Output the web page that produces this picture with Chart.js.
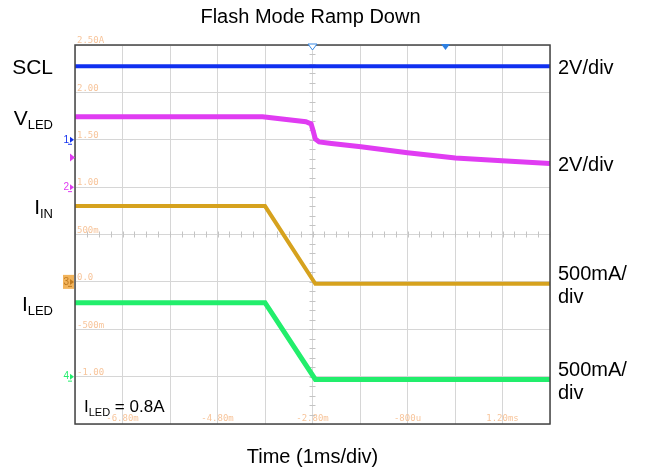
<!DOCTYPE html>
<html>
<head>
<meta charset="utf-8">
<title>Flash Mode Ramp Down</title>
<script src="https://cdn.jsdelivr.net/npm/chart.js@4.4.0/dist/chart.umd.min.js"></script>
<style>
  body { margin: 0; background: #fff; }
</style>
</head>
<body>
<canvas id="scope" width="648" height="471"></canvas>
<script>
// time base 1 ms/div, screen spans -7.8 ms .. 2.2 ms
var gridTimes = [-7.8, -6.8, -5.8, -4.8, -3.8, -2.8, -1.8, -0.8, 0.2, 1.2, 2.2];
var timeLabels = ['', '-6.80m', '', '-4.80m', '', '-2.80m', '', '-800u', '', '1.20ms', ''];
// vertical divisions from screen centre
var gridDivs = [-4, -3, -2, -1, 0, 1, 2, 3, 4];
var levelLabels = ['', '-1.00', '-500m', '0.0', '500m', '1.00', '1.50', '2.00', '2.50A'];

// traces (ms, volts / amps)
var sclTime = [-7.8, 2.2];
var sclVolts = [3.1, 3.1];
var vledTime = [-7.8, -3.85, -2.94, -2.83, -2.79, -2.74, -2.66, -2.4, -1.78, -0.8, 0.21, 1.19, 2.2];
var vledVolts = [2.97, 2.97, 2.76, 2.67, 2.40, 2.03, 1.91, 1.84, 1.70, 1.45, 1.23, 1.11, 1.0];
var iinTime = [-7.8, -3.8, -2.74, 2.2];
var iinAmps = [0.80, 0.80, -0.02, -0.02];
var iledTime = [-7.8, -3.8, -2.74, 2.2];
var iledAmps = [0.78, 0.78, -0.03, -0.03];

// channel settings: units per div and ground marker (div from centre)
var perDiv = [2, 2, 0.5, 0.5];
var groundDiv = [2, 1, -1, -3];
var chNames = [['SCL', ''], ['V', 'LED'], ['I', 'IN'], ['I', 'LED']];
var chScales = [['2V/div'], ['2V/div'], ['500mA/', 'div'], ['500mA/', 'div']];
var triggerTimes = [-2.8, 0.0];
var vledLevel = 1.25; // level arrow on ch2

var chColors = ['#1030f0', '#e03cf2', '#d6a21e', '#22ee6c'];
var chWidths = [4, 5, 4, 5];
var textFont = 'Arial, "Liberation Sans", sans-serif';
var scopeFont = {family: '"DejaVu Sans Mono", monospace', size: 9};

function toDivs(times, values, ch) {
    return times.map(function(t, i) {
        return {x: t, y: groundDiv[ch] + values[i] / perDiv[ch]};
    });
}

var traces = [
    toDivs(sclTime, sclVolts, 0),
    toDivs(vledTime, vledVolts, 1),
    toDivs(iinTime, iinAmps, 2),
    toDivs(iledTime, iledAmps, 3)
];

var scopeDecor = {
    id: 'scopeDecor',
    beforeDatasetsDraw: function(chart) {
        // small ticks on the centre cross
        var ctx = chart.ctx, xs = chart.scales.x, ys = chart.scales.y;
        var cx = xs.getPixelForValue(gridTimes[5]);
        var cy = ys.getPixelForValue(0);
        ctx.save();
        ctx.strokeStyle = '#c4c4c4';
        ctx.lineWidth = 1;
        ctx.beginPath();
        for (var d = -4; d <= 4.001; d += 0.2) {
            var py = Math.round(ys.getPixelForValue(d)) + 0.5;
            ctx.moveTo(cx - 3, py); ctx.lineTo(cx + 3, py);
        }
        for (var k = 0; k <= 40; k++) {
            var px = Math.round(xs.getPixelForValue(gridTimes[0] + k * 0.25)) + 0.5;
            ctx.moveTo(px, cy - 3); ctx.lineTo(px, cy + 3);
        }
        ctx.stroke();
        ctx.restore();
    },
    afterDraw: function(chart) {
        var ctx = chart.ctx, a = chart.chartArea, xs = chart.scales.x, ys = chart.scales.y;
        ctx.save();
        // frame
        ctx.strokeStyle = '#444';
        ctx.lineWidth = 1.5;
        ctx.strokeRect(a.left, a.top, a.right - a.left, a.bottom - a.top);

        // trigger markers on top edge
        triggerTimes.forEach(function(t, i) {
            var px = xs.getPixelForValue(t);
            ctx.beginPath();
            ctx.moveTo(px - 4.5, a.top - 1);
            ctx.lineTo(px + 4.5, a.top - 1);
            ctx.lineTo(px, a.top + 5);
            ctx.closePath();
            if (i == 0) {
                ctx.fillStyle = '#fff'; ctx.fill();
                ctx.strokeStyle = '#3a8be6'; ctx.lineWidth = 1; ctx.stroke();
            } else {
                ctx.fillStyle = '#2d7fe2'; ctx.fill();
            }
        });

        // channel ground markers at left edge
        ctx.font = '10px ' + textFont;
        ctx.textBaseline = 'middle';
        ctx.textAlign = 'right';
        groundDiv.forEach(function(g, i) {
            var py = ys.getPixelForValue(g);
            if (i == 2) {
                ctx.fillStyle = '#f2b45c';
                ctx.fillRect(a.left - 12, py - 7, 11, 14);
            }
            ctx.fillStyle = i == 2 ? '#c07a20' : chColors[i];
            ctx.fillText(String(i + 1), a.left - 6, py);
            ctx.beginPath();
            ctx.moveTo(a.left - 5, py - 3);
            ctx.lineTo(a.left - 1, py);
            ctx.lineTo(a.left - 5, py + 3);
            ctx.fill();
            ctx.fillRect(a.left - 7, py + 4, 4, 1);
        });
        // vled level arrow
        var ly = ys.getPixelForValue(groundDiv[1] + vledLevel / perDiv[1]);
        ctx.fillStyle = chColors[1];
        ctx.beginPath();
        ctx.moveTo(a.left - 5, ly - 4);
        ctx.lineTo(a.left, ly);
        ctx.lineTo(a.left - 5, ly + 4);
        ctx.fill();

        // channel names on the left, scales on the right
        ctx.fillStyle = '#000';
        ctx.textAlign = 'left';
        ctx.textBaseline = 'alphabetic';
        traces.forEach(function(pts, i) {
            var y0 = ys.getPixelForValue(pts[0].y);
            ctx.font = '21px ' + textFont;
            var w1 = ctx.measureText(chNames[i][0]).width;
            ctx.font = '13px ' + textFont;
            var w2 = ctx.measureText(chNames[i][1]).width;
            var x0 = 53 - w1 - w2;
            ctx.font = '21px ' + textFont;
            ctx.fillText(chNames[i][0], x0, y0 + 8);
            ctx.font = '13px ' + textFont;
            ctx.fillText(chNames[i][1], x0 + w1, y0 + 12);

            var y1 = ys.getPixelForValue(pts[pts.length - 1].y);
            var lines = chScales[i];
            ctx.font = '20px ' + textFont;
            lines.forEach(function(s, j) {
                ctx.fillText(s, a.right + 8, y1 + 8 + (j - (lines.length - 1) / 2) * 22.6);
            });
        });

        // annotation
        var by = a.bottom - 12;
        ctx.font = '17px ' + textFont;
        ctx.fillText('I', a.left + 9, by);
        var wi = ctx.measureText('I').width;
        ctx.font = '11px ' + textFont;
        ctx.fillText('LED', a.left + 9 + wi, by + 4);
        var ws = ctx.measureText('LED').width;
        ctx.font = '17px ' + textFont;
        ctx.fillText(' = 0.8A', a.left + 9 + wi + ws, by);
        ctx.restore();
    }
};

var chart = new Chart(document.getElementById('scope'), {
    type: 'line',
    data: {
        datasets: traces.map(function(pts, i) {
            return {
                data: pts,
                borderColor: chColors[i],
                borderWidth: chWidths[i],
                pointRadius: 0,
                tension: 0,
                fill: false
            };
        })
    },
    options: {
        responsive: false,
        animation: false,
        layout: {padding: {left: 71, right: 98, top: 0, bottom: 0}},
        plugins: {
            legend: {display: false},
            tooltip: {enabled: false},
            title: {
                display: true,
                text: 'Flash Mode Ramp Down',
                color: '#000',
                font: {family: textFont, size: 20, weight: 'normal'},
                padding: {top: 5, bottom: 16}
            }
        },
        scales: {
            x: {
                type: 'linear',
                min: gridTimes[0],
                max: gridTimes[gridTimes.length - 1],
                afterBuildTicks: function(s) {
                    s.ticks = gridTimes.map(function(v) { return {value: v}; });
                },
                grid: {color: '#d6d6d6', drawTicks: false},
                border: {display: false},
                ticks: {
                    mirror: true,
                    padding: 0,
                    maxRotation: 0,
                    autoSkip: false,
                    color: '#f7c49a',
                    font: scopeFont,
                    callback: function(v, i) { return timeLabels[i]; }
                },
                title: {
                    display: true,
                    text: 'Time (1ms/div)',
                    color: '#000',
                    font: {family: textFont, size: 20},
                    padding: {top: 21, bottom: 2}
                }
            },
            y: {
                type: 'linear',
                min: gridDivs[0],
                max: gridDivs[gridDivs.length - 1],
                afterBuildTicks: function(s) {
                    s.ticks = gridDivs.map(function(v) { return {value: v}; });
                },
                grid: {color: '#d6d6d6', drawTicks: false},
                border: {display: false},
                ticks: {
                    mirror: true,
                    padding: 2,
                    autoSkip: false,
                    color: '#f7c49a',
                    font: scopeFont,
                    labelOffset: function(c) { return c.index == gridDivs.length - 1 ? 6 : -4; },
                    callback: function(v, i) { return levelLabels[i]; }
                }
            }
        }
    },
    plugins: [scopeDecor]
});
</script>
</body>
</html>
